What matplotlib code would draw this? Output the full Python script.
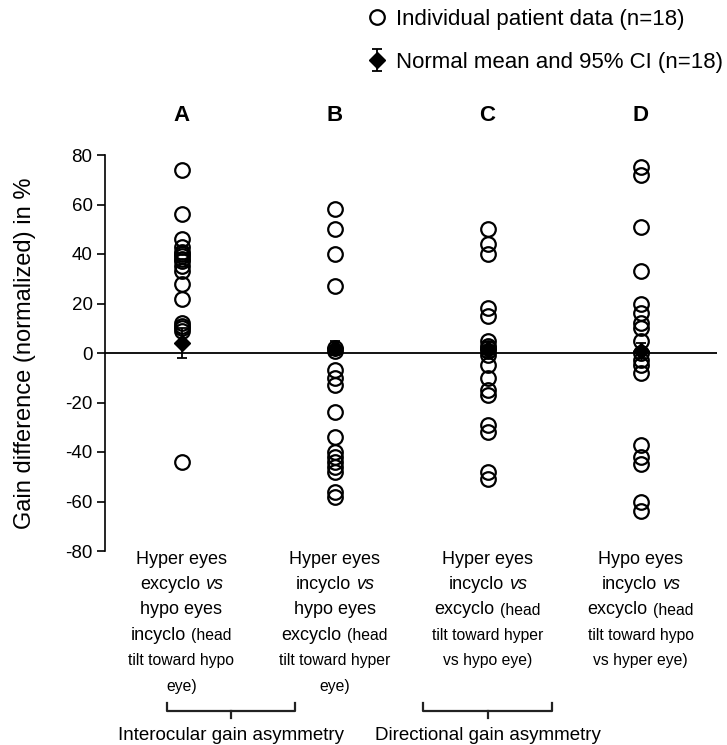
import matplotlib
matplotlib.use('Agg')
import matplotlib.pyplot as plt
import matplotlib.transforms as mtransforms
from matplotlib import font_manager
from matplotlib.lines import Line2D

# ---------------- data ----------------
panels = ['A', 'B', 'C', 'D']
values_A = [74, 56, 46, 43, 41, 40, 39, 38, 37, 35, 33, 28, 22, 12, 11, 10, 9, -44]
values_B = [58, 50, 40, 27, 2, 1, -7, -10, -13, -24, -34, -40, -42, -44, -46, -48, -56, -58]
values_C = [50, 44, 40, 18, 15, 5, 3, 2, 1, -1, -5, -10, -15, -17, -29, -32, -48, -51]
values_D = [75, 72, 51, 33, 20, 16, 12, 10, 5, 0, -3, -5, -8, -37, -42, -45, -60, -64]
normal_means = [4, 2, 1.5, 1]
normal_ci = [6, 3, 3, 3]
yticks = [-80, -60, -40, -20, 0, 20, 40, 60, 80]
ylabel = 'Gain difference (normalized) in %'
legend_labels = ['Individual patient data (n=18)', 'Normal mean and 95% CI (n=18)']
# category labels: each line is a list of (text, style); n=normal, i=italic, c=condensed
cat_labels = [
    [[('Hyper eyes', 'n')], [('excyclo', 'n'), ('vs', 'i')], [('hypo eyes', 'n')],
     [('incyclo', 'n'), ('(head', 'c')], [('tilt toward hypo', 'c')], [('eye)', 'c')]],
    [[('Hyper eyes', 'n')], [('incyclo', 'n'), ('vs', 'i')], [('hypo eyes', 'n')],
     [('excyclo', 'n'), ('(head', 'c')], [('tilt toward hyper', 'c')], [('eye)', 'c')]],
    [[('Hyper eyes', 'n')], [('incyclo', 'n'), ('vs', 'i')],
     [('excyclo', 'n'), ('(head', 'c')], [('tilt toward hyper', 'c')], [('vs hypo eye)', 'c')]],
    [[('Hypo eyes', 'n')], [('incyclo', 'n'), ('vs', 'i')],
     [('excyclo', 'n'), ('(head', 'c')], [('tilt toward hypo', 'c')], [('vs hyper eye)', 'c')]],
]
group_labels = ['Interocular gain asymmetry', 'Directional gain asymmetry']

all_values = [values_A, values_B, values_C, values_D]

# ---------------- fonts ----------------
def has_font(name):
    try:
        font_manager.findfont(font_manager.FontProperties(family=name), fallback_to_default=False)
        return True
    except Exception:
        return False

BASE = 'Liberation Sans' if has_font('Liberation Sans') else 'DejaVu Sans'
plt.rcParams['font.family'] = [BASE, 'DejaVu Sans']
if has_font('Liberation Sans Narrow'):
    cond_style = dict(family=['Liberation Sans Narrow', BASE], fontsize=13.5)
else:
    cond_style = dict(family=[BASE], fontsize=11.3)

styles = {
    'n': dict(family=[BASE], fontsize=13),
    'i': dict(family=[BASE], fontsize=13, style='italic'),
    'c': cond_style,
}

W, H = 727, 745
fig = plt.figure(figsize=(W / 100, H / 100), dpi=100)
ax = fig.add_axes([105 / W, 1 - 551 / H, 612 / W, 396 / H])

positions = [i + 0.5 for i in range(len(panels))]

for pos, vals in zip(positions, all_values):
    ax.plot([pos] * len(vals), vals, linestyle='none', marker='o', markersize=10.5,
            markerfacecolor='none', markeredgecolor='black', markeredgewidth=1.6,
            label=legend_labels[0] if pos == positions[0] else None, zorder=3)

ax.errorbar(positions, normal_means, yerr=normal_ci, fmt='D', color='black',
            markersize=8.5, ecolor='black', elinewidth=1.3, capsize=3.5, capthick=1.3,
            label=legend_labels[1], zorder=4)

ax.axhline(0, color='black', linewidth=1.3, zorder=1)
ax.set_xlim(0, 4)
ax.set_ylim(-80, 80)
ax.set_yticks(yticks)
ax.set_yticklabels([str(t) for t in yticks])
ax.set_xticks([])
for s in ['top', 'right', 'bottom']:
    ax.spines[s].set_visible(False)
ax.spines['left'].set_linewidth(1.2)
ax.tick_params(axis='y', direction='out', length=6, width=1.2, labelsize=13.5, pad=3)
ax.set_ylabel(ylabel, fontsize=17)
ax.yaxis.set_label_coords((36 - 105) / 612, 0.5)

# panel letters
letter_tr = mtransforms.blended_transform_factory(ax.transData, fig.transFigure)
for pos, p in zip(positions, panels):
    ax.text(pos, 1 - 121 / H, p, transform=letter_tr,
            ha='center', va='baseline', fontsize=16, fontweight='bold')

# legend
h, l = ax.get_legend_handles_labels()
fig.legend(h, l, loc='upper left', bbox_to_anchor=(366 / W, 1 - 9 / H),
           frameon=False, fontsize=16, handlelength=1.0, handletextpad=0.35,
           labelspacing=0.98, borderpad=0, borderaxespad=0)

# category labels (multi-font lines)
renderer = fig.canvas.get_renderer()

def text_width(s, st):
    t = fig.text(0, 0, s, **st)
    w = t.get_window_extent(renderer).width
    t.remove()
    return w

space_w = {k: text_width('a a', st) - text_width('aa', st) for k, st in styles.items()}

baseline0 = 563.5
line_step = 25.5
for pos, lines in zip(positions, cat_labels):
    xc = ax.transData.transform((pos, 0))[0]
    for li, segs in enumerate(lines):
        widths = [text_width(s, styles[k]) for s, k in segs]
        gaps = [space_w[segs[j][1]] for j in range(len(segs) - 1)]
        total = sum(widths) + sum(gaps)
        x = xc - total / 2
        yb = baseline0 + li * line_step
        for j, (s, k) in enumerate(segs):
            fig.text(x / W, 1 - yb / H, s, ha='left', va='baseline', **styles[k])
            x += widths[j] + (gaps[j] if j < len(gaps) else 0)

# brackets and group labels
bracket_x = [(0.405, 1.242), (2.078, 2.922)]
for (x0d, x1d), glabel in zip(bracket_x, group_labels):
    x0 = ax.transData.transform((x0d, 0))[0] / W
    x1 = ax.transData.transform((x1d, 0))[0] / W
    xm = (x0 + x1) / 2
    yl = 1 - 711 / H
    yt = 1 - 703 / H
    yd = 1 - 718 / H
    fig.add_artist(Line2D([x0, x0, x1, x1], [yt, yl, yl, yt], color='#222222', linewidth=1.6))
    fig.add_artist(Line2D([xm, xm], [yl, yd], color='#222222', linewidth=1.6))
    fig.text(xm, 1 - 740 / H, glabel, ha='center', va='baseline', fontsize=13.5)

fig.savefig('out.png', dpi=100)
